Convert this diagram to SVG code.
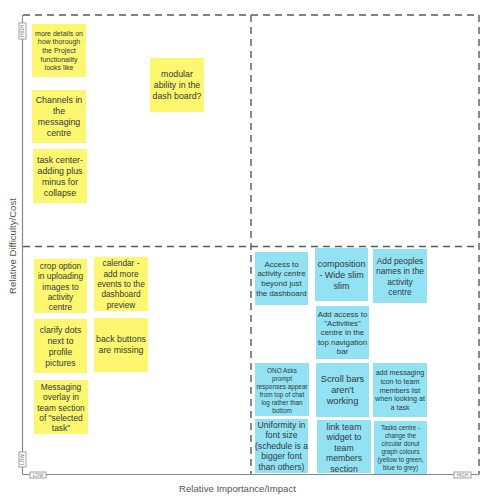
<svg xmlns="http://www.w3.org/2000/svg" width="500" height="499" viewBox="0 0 500 499">
<style>
.bg{fill:#ffffff}
.dash{stroke:#5a5a5a;stroke-width:1.4;stroke-dasharray:7 5;fill:none}
.axis{stroke:#8a8a8a;stroke-width:1.2;fill:none}
.tag{fill:#ffffff;stroke:#8a8a8a;stroke-width:0.8}
.tagt{font-family:"Liberation Sans",Arial,sans-serif;font-size:4.6px;fill:#777;text-anchor:middle}
.title{font-family:"Liberation Sans",Arial,sans-serif;font-size:9.6px;fill:#555;text-anchor:middle}
.y{fill:#fdf770}
.b{fill:#93e2f4}
.t{font-family:"Liberation Sans",Arial,sans-serif;fill:#2f3a3a;text-anchor:middle}
</style>
<rect class="bg" x="0" y="0" width="500" height="499"/>
<g id="grid">
<line class="dash" x1="23" y1="15" x2="479" y2="15"/>
<line class="dash" x1="479" y1="15" x2="479" y2="474.5"/>
<line class="dash" x1="23" y1="246.5" x2="479" y2="246.5"/>
<line class="dash" x1="251" y1="15" x2="251" y2="474.5"/>
<line class="axis" x1="22.5" y1="15" x2="22.5" y2="474.5"/>
<line class="axis" x1="22.5" y1="474.5" x2="479" y2="474.5"/>
<rect class="tag" x="19" y="23" width="7" height="16"/>
<text class="tagt" transform="translate(24.1,31) rotate(-90)">HIGH</text>
<rect class="tag" x="19" y="452" width="7" height="15"/>
<text class="tagt" transform="translate(24.1,459.5) rotate(-90)">LOW</text>
<rect class="tag" x="30" y="472" width="16" height="6"/>
<text class="tagt" x="38" y="476.6">LOW</text>
<rect class="tag" x="454" y="472" width="17" height="6"/>
<text class="tagt" x="462.5" y="476.6">HIGH</text>
<text class="title" transform="translate(15.5,246) rotate(-90)">Relative Difficulty/Cost</text>
<text class="title" x="237.5" y="491.5">Relative Importance/Impact</text>
</g>
<g id="connectors"></g>
<g id="n1"><rect class="y" x="32" y="24" width="54" height="53"/>
<text class="t" font-size="7" x="59" y="35.8"><tspan x="59">more details on</tspan><tspan x="59" dy="8.6">how thorough</tspan><tspan x="59" dy="8.6">the Project</tspan><tspan x="59" dy="8.6">functionality</tspan><tspan x="59" dy="8.6">looks like</tspan></text></g>
<g id="n2"><rect class="y" x="32" y="90" width="54" height="53"/>
<text class="t" font-size="8.8" x="59" y="103.2"><tspan x="59">Channels in</tspan><tspan x="59" dy="11">the</tspan><tspan x="59" dy="11">messaging</tspan><tspan x="59" dy="11">centre</tspan></text></g>
<g id="n3"><rect class="y" x="33" y="149" width="54" height="54"/>
<text class="t" font-size="8.8" x="60" y="163.2"><tspan x="60">task center-</tspan><tspan x="60" dy="10.9">adding plus</tspan><tspan x="60" dy="10.9">minus for</tspan><tspan x="60" dy="10.9">collapse</tspan></text></g>
<g id="n4"><rect class="y" x="150" y="58" width="54" height="54"/>
<text class="t" font-size="8.8" x="177" y="77.2"><tspan x="177">modular</tspan><tspan x="177" dy="11">ability in the</tspan><tspan x="177" dy="11">dash board?</tspan></text></g>
<g id="n5"><rect class="y" x="34" y="259" width="53" height="54"/>
<text class="t" font-size="8.4" x="60.5" y="268.7"><tspan x="60.5">crop option</tspan><tspan x="60.5" dy="10.4">in uploading</tspan><tspan x="60.5" dy="10.4">images to</tspan><tspan x="60.5" dy="10.4">activity</tspan><tspan x="60.5" dy="10.4">centre</tspan></text></g>
<g id="n6"><rect class="y" x="94" y="257" width="54" height="54"/>
<text class="t" font-size="8.3" x="121" y="266.3"><tspan x="121">calendar -</tspan><tspan x="121" dy="10.3">add more</tspan><tspan x="121" dy="10.3">events to the</tspan><tspan x="121" dy="10.3">dashboard</tspan><tspan x="121" dy="10.3">preview</tspan></text></g>
<g id="n7"><rect class="y" x="34" y="319" width="53" height="54"/>
<text class="t" font-size="8.7" x="60.5" y="333.1"><tspan x="60.5">clarify dots</tspan><tspan x="60.5" dy="10.8">next to</tspan><tspan x="60.5" dy="10.8">profile</tspan><tspan x="60.5" dy="10.8">pictures</tspan></text></g>
<g id="n8"><rect class="y" x="94" y="318" width="54" height="54"/>
<text class="t" font-size="8.8" x="121" y="342.4"><tspan x="121">back buttons</tspan><tspan x="121" dy="11">are missing</tspan></text></g>
<g id="n9"><rect class="y" x="34" y="380" width="54" height="54"/>
<text class="t" font-size="8.4" x="61" y="389.7"><tspan x="61">Messaging</tspan><tspan x="61" dy="10.4">overlay in</tspan><tspan x="61" dy="10.4">team section</tspan><tspan x="61" dy="10.4">of "selected</tspan><tspan x="61" dy="10.4">task"</tspan></text></g>
<g id="n10"><rect class="b" x="255" y="252" width="53" height="53"/>
<text class="t" font-size="7.9" x="281.5" y="266.8"><tspan x="281.5">Access to</tspan><tspan x="281.5" dy="9.6">activity centre</tspan><tspan x="281.5" dy="9.6">beyond just</tspan><tspan x="281.5" dy="9.6">the dashboard</tspan></text></g>
<g id="n11"><rect class="b" x="315" y="248" width="53" height="53"/>
<text class="t" font-size="9" x="341.5" y="267.2"><tspan x="341.5">composition</tspan><tspan x="341.5" dy="10.7">- Wide slim</tspan><tspan x="341.5" dy="10.7">slim</tspan></text></g>
<g id="n12"><rect class="b" x="373" y="249" width="54" height="54"/>
<text class="t" font-size="8.4" x="400" y="263.7"><tspan x="400">Add peoples</tspan><tspan x="400" dy="10.4">names in the</tspan><tspan x="400" dy="10.4">activity</tspan><tspan x="400" dy="10.4">centre</tspan></text></g>
<g id="n13"><rect class="b" x="316" y="306" width="53" height="53"/>
<text class="t" font-size="7.9" x="342.5" y="316.8"><tspan x="342.5">Add access to</tspan><tspan x="342.5" dy="9.3">"Activities"</tspan><tspan x="342.5" dy="9.3">centre in the</tspan><tspan x="342.5" dy="9.3">top navigation</tspan><tspan x="342.5" dy="9.3">bar</tspan></text></g>
<g id="n14"><rect class="b" x="255" y="363" width="54" height="53"/>
<text class="t" font-size="6.4" x="282" y="373"><tspan x="282">ONO Asks</tspan><tspan x="282" dy="8">prompt</tspan><tspan x="282" dy="8">responses appear</tspan><tspan x="282" dy="8">from top of chat</tspan><tspan x="282" dy="8">log rather than</tspan><tspan x="282" dy="8">bottom</tspan></text></g>
<g id="n15"><rect class="b" x="316" y="363" width="53" height="54"/>
<text class="t" font-size="9.2" x="342.5" y="382.3"><tspan x="342.5">Scroll bars</tspan><tspan x="342.5" dy="11">aren't</tspan><tspan x="342.5" dy="11">working</tspan></text></g>
<g id="n16"><rect class="b" x="373" y="363" width="54" height="54"/>
<text class="t" font-size="7.2" x="400" y="375.3"><tspan x="400">add messaging</tspan><tspan x="400" dy="8.7">icon to team</tspan><tspan x="400" dy="8.7">members list</tspan><tspan x="400" dy="8.7">when looking at</tspan><tspan x="400" dy="8.7">a task</tspan></text></g>
<g id="n17"><rect class="b" x="255" y="419" width="53" height="54"/>
<text class="t" font-size="8.6" x="281.5" y="428"><tspan x="281.5">Uniformity in</tspan><tspan x="281.5" dy="10.4">font size</tspan><tspan x="281.5" dy="10.4">(schedule is a</tspan><tspan x="281.5" dy="10.4">bigger font</tspan><tspan x="281.5" dy="10.4">than others)</tspan></text></g>
<g id="n18"><rect class="b" x="317" y="420" width="54" height="53"/>
<text class="t" font-size="8.7" x="344" y="429.8"><tspan x="344">link team</tspan><tspan x="344" dy="10.5">widget to</tspan><tspan x="344" dy="10.5">team</tspan><tspan x="344" dy="10.5">members</tspan><tspan x="344" dy="10.5">section</tspan></text></g>
<g id="n19"><rect class="b" x="374" y="421" width="53" height="53"/>
<text class="t" font-size="6.3" x="400.5" y="429.5"><tspan x="400.5">Tasks centre -</tspan><tspan x="400.5" dy="8.1">change the</tspan><tspan x="400.5" dy="8.1">circular donut</tspan><tspan x="400.5" dy="8.1">graph colours</tspan><tspan x="400.5" dy="8.1">(yellow to green,</tspan><tspan x="400.5" dy="8.1">blue to grey)</tspan></text></g>
</svg>
